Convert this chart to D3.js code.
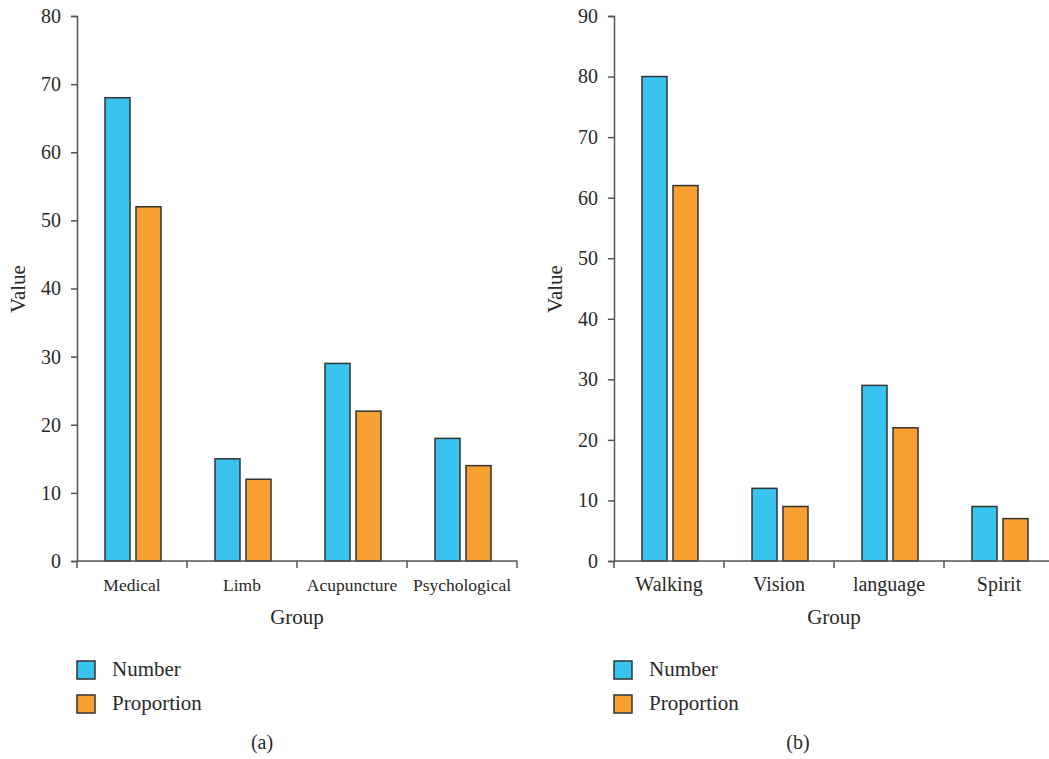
<!DOCTYPE html>
<html>
<head>
<meta charset="utf-8">
<script src="https://cdn.jsdelivr.net/npm/d3@7"></script>
<style>
  body { margin: 0; background: #fff; }
  text { font-family: "Liberation Serif", "DejaVu Serif", serif; fill: #2a2a2a; }
</style>
</head>
<body>
<div id="chart"></div>
<script>
(function() {
  // panel (a)
  var groupsA = ['Medical', 'Limb', 'Acupuncture', 'Psychological'];
  var numberA = [68, 15, 29, 18];
  var proportionA = [52, 12, 22, 14];
  var ticksA = [0, 10, 20, 30, 40, 50, 60, 70, 80];

  // panel (b)
  var groupsB = ['Walking', 'Vision', 'language', 'Spirit'];
  var numberB = [80, 12, 29, 9];
  var proportionB = [62, 9, 22, 7];
  var ticksB = [0, 10, 20, 30, 40, 50, 60, 70, 80, 90];

  var seriesNames = ['Number', 'Proportion'];
  var colors = ['#38c4ee', '#f9a032'];

  var svg = d3.select('#chart').append('svg')
    .attr('width', 1049)
    .attr('height', 759);

  var drawPanel = function(opts) {
    var g = svg.append('g');
    var x = d3.scaleBand().domain(opts.groups).range([opts.left, opts.left + 440]);
    var y = d3.scaleLinear().domain([0, opts.max]).range([561, 16]);

    // bars
    var barW = 25, gap = 6;
    var series = [opts.number, opts.proportion];
    series.forEach(function(vals, si) {
      g.selectAll('.bar' + si).data(vals)
        .enter().append('rect')
          .attr('x', function(d, i) {
            return x(opts.groups[i]) + x.bandwidth() / 2 - barW - gap / 2 + si * (barW + gap) + 1;
          })
          .attr('y', function(d) { return y(d); })
          .attr('width', barW)
          .attr('height', function(d) { return y(0) - y(d); })
          .style('fill', colors[si])
          .style('stroke', '#333')
          .style('stroke-width', 1.5);
    });

    // y axis
    var yAxis = g.append('g')
      .attr('transform', 'translate(' + opts.left + ',0)')
      .call(d3.axisLeft(y).tickValues(opts.ticks).tickSize(6).tickPadding(10));
    yAxis.selectAll('text').style('font-size', '20px').style('font-family', '"Liberation Serif", serif').attr('fill', '#2a2a2a');

    // x axis
    var xAxis = g.append('g')
      .attr('transform', 'translate(0,561)');
    xAxis.append('line')
      .attr('x1', opts.left).attr('x2', opts.left + 440)
      .attr('y1', 0).attr('y2', 0);
    xAxis.selectAll('.xt').data(d3.range(opts.groups.length + 1))
      .enter().append('line')
        .attr('x1', function(d) { return opts.left + d * x.step(); })
        .attr('x2', function(d) { return opts.left + d * x.step(); })
        .attr('y1', 0).attr('y2', 7);
    xAxis.selectAll('.xl').data(opts.groups)
      .enter().append('text')
        .attr('x', function(d) { return x(d) + x.bandwidth() / 2; })
        .attr('y', 30)
        .attr('text-anchor', 'middle')
        .style('font-size', opts.catSize)
        .text(function(d) { return d; });

    g.selectAll('.domain, .tick line, line').attr('stroke', '#555').attr('stroke-width', 1.5);

    // axis titles
    g.append('text')
      .attr('x', opts.left + 220)
      .attr('y', 624)
      .attr('text-anchor', 'middle')
      .style('font-size', '21px')
      .text('Group');
    g.append('text')
      .attr('transform', 'translate(' + (opts.left - 52) + ',289) rotate(-90)')
      .attr('text-anchor', 'middle')
      .style('font-size', '21px')
      .text('Value');

    // legend
    seriesNames.forEach(function(name, i) {
      g.append('rect')
        .attr('x', opts.left)
        .attr('y', 661 + i * 34)
        .attr('width', 18)
        .attr('height', 18)
        .style('fill', colors[i])
        .style('stroke', '#333')
        .style('stroke-width', 1.5);
      g.append('text')
        .attr('x', opts.left + 35)
        .attr('y', 676 + i * 34)
        .style('font-size', '21px')
        .text(name);
    });

    g.append('text')
      .attr('x', opts.labelX)
      .attr('y', 749)
      .attr('text-anchor', 'middle')
      .style('font-size', '20px')
      .text(opts.label);
  };

  drawPanel({ left: 77, groups: groupsA, number: numberA, proportion: proportionA,
              max: 80, ticks: ticksA, label: '(a)', labelX: 262, catSize: '17.5px' });
  drawPanel({ left: 614, groups: groupsB, number: numberB, proportion: proportionB,
              max: 90, ticks: ticksB, label: '(b)', labelX: 798, catSize: '20px' });
}).call(this);
</script>
</body>
</html>
